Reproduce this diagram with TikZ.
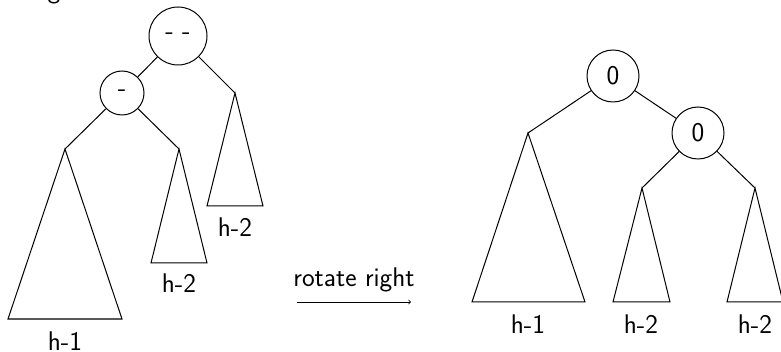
\documentclass[tikz,border=0pt]{standalone}
\begin{document}
\begin{tikzpicture}[x=1pt,y=-1pt,line width=1pt,
  font=\sffamily\fontsize{27}{32}\selectfont,
  bal/.style={circle,draw,inner sep=0pt},
  lbl/.style={anchor=base,inner sep=0pt}]
\useasboundingbox (0,0) rectangle (781,352);
\begin{scope}
\clip (0,0) rectangle (781,352);
\node[lbl] (gfrag) at (54,-1) {g};
% left tree
\node[bal,minimum size=58pt] (L0) at (178,36) {- -};
\node[bal,minimum size=44pt] (L1) at (122,93) {-};
\coordinate (LA1) at (65,149);
\coordinate (LA2) at (179,149);
\coordinate (LA3) at (235,93);
\draw (L0) -- (L1);
\draw (L0) -- (LA3);
\draw (L1) -- (LA1);
\draw (L1) -- (LA2);
\draw (LA1) -- (8,319) -- (122,319) -- cycle;
\draw (LA2) -- (151,263) -- (207,263) -- cycle;
\draw (LA3) -- (207,206) -- (263,206) -- cycle;
\node[lbl] (t1) at (65,350) {h-1};
\node[lbl] (t2) at (179,293) {h-2};
\node[lbl] (t3) at (235,237) {h-2};
% arrow
\node[lbl] (rot) at (354,287) {rotate right};
\coordinate (arS) at (297,302);
\coordinate (arE) at (411,302);
\draw[line width=0.8pt,->] (arS) -- (arE);
% right tree
\node[bal,minimum size=52pt] (R0) at (613,76) {0};
\node[bal,minimum size=52pt] (R1) at (698,133) {0};
\coordinate (RA1) at (528,133);
\coordinate (RA2) at (642,188);
\coordinate (RA3) at (755,188);
\draw (R0) -- (R1);
\draw (R0) -- (RA1);
\draw (R1) -- (RA2);
\draw (R1) -- (RA3);
\draw (RA1) -- (472,302) -- (585,302) -- cycle;
\draw (RA2) -- (613,302) -- (670,302) -- cycle;
\draw (RA3) -- (727,302) -- (783,302) -- cycle;
\node[lbl] (u1) at (528,333) {h-1};
\node[lbl] (u2) at (641,333) {h-2};
\node[lbl] (u3) at (755,333) {h-2};
\end{scope}
\end{tikzpicture}
\end{document}
